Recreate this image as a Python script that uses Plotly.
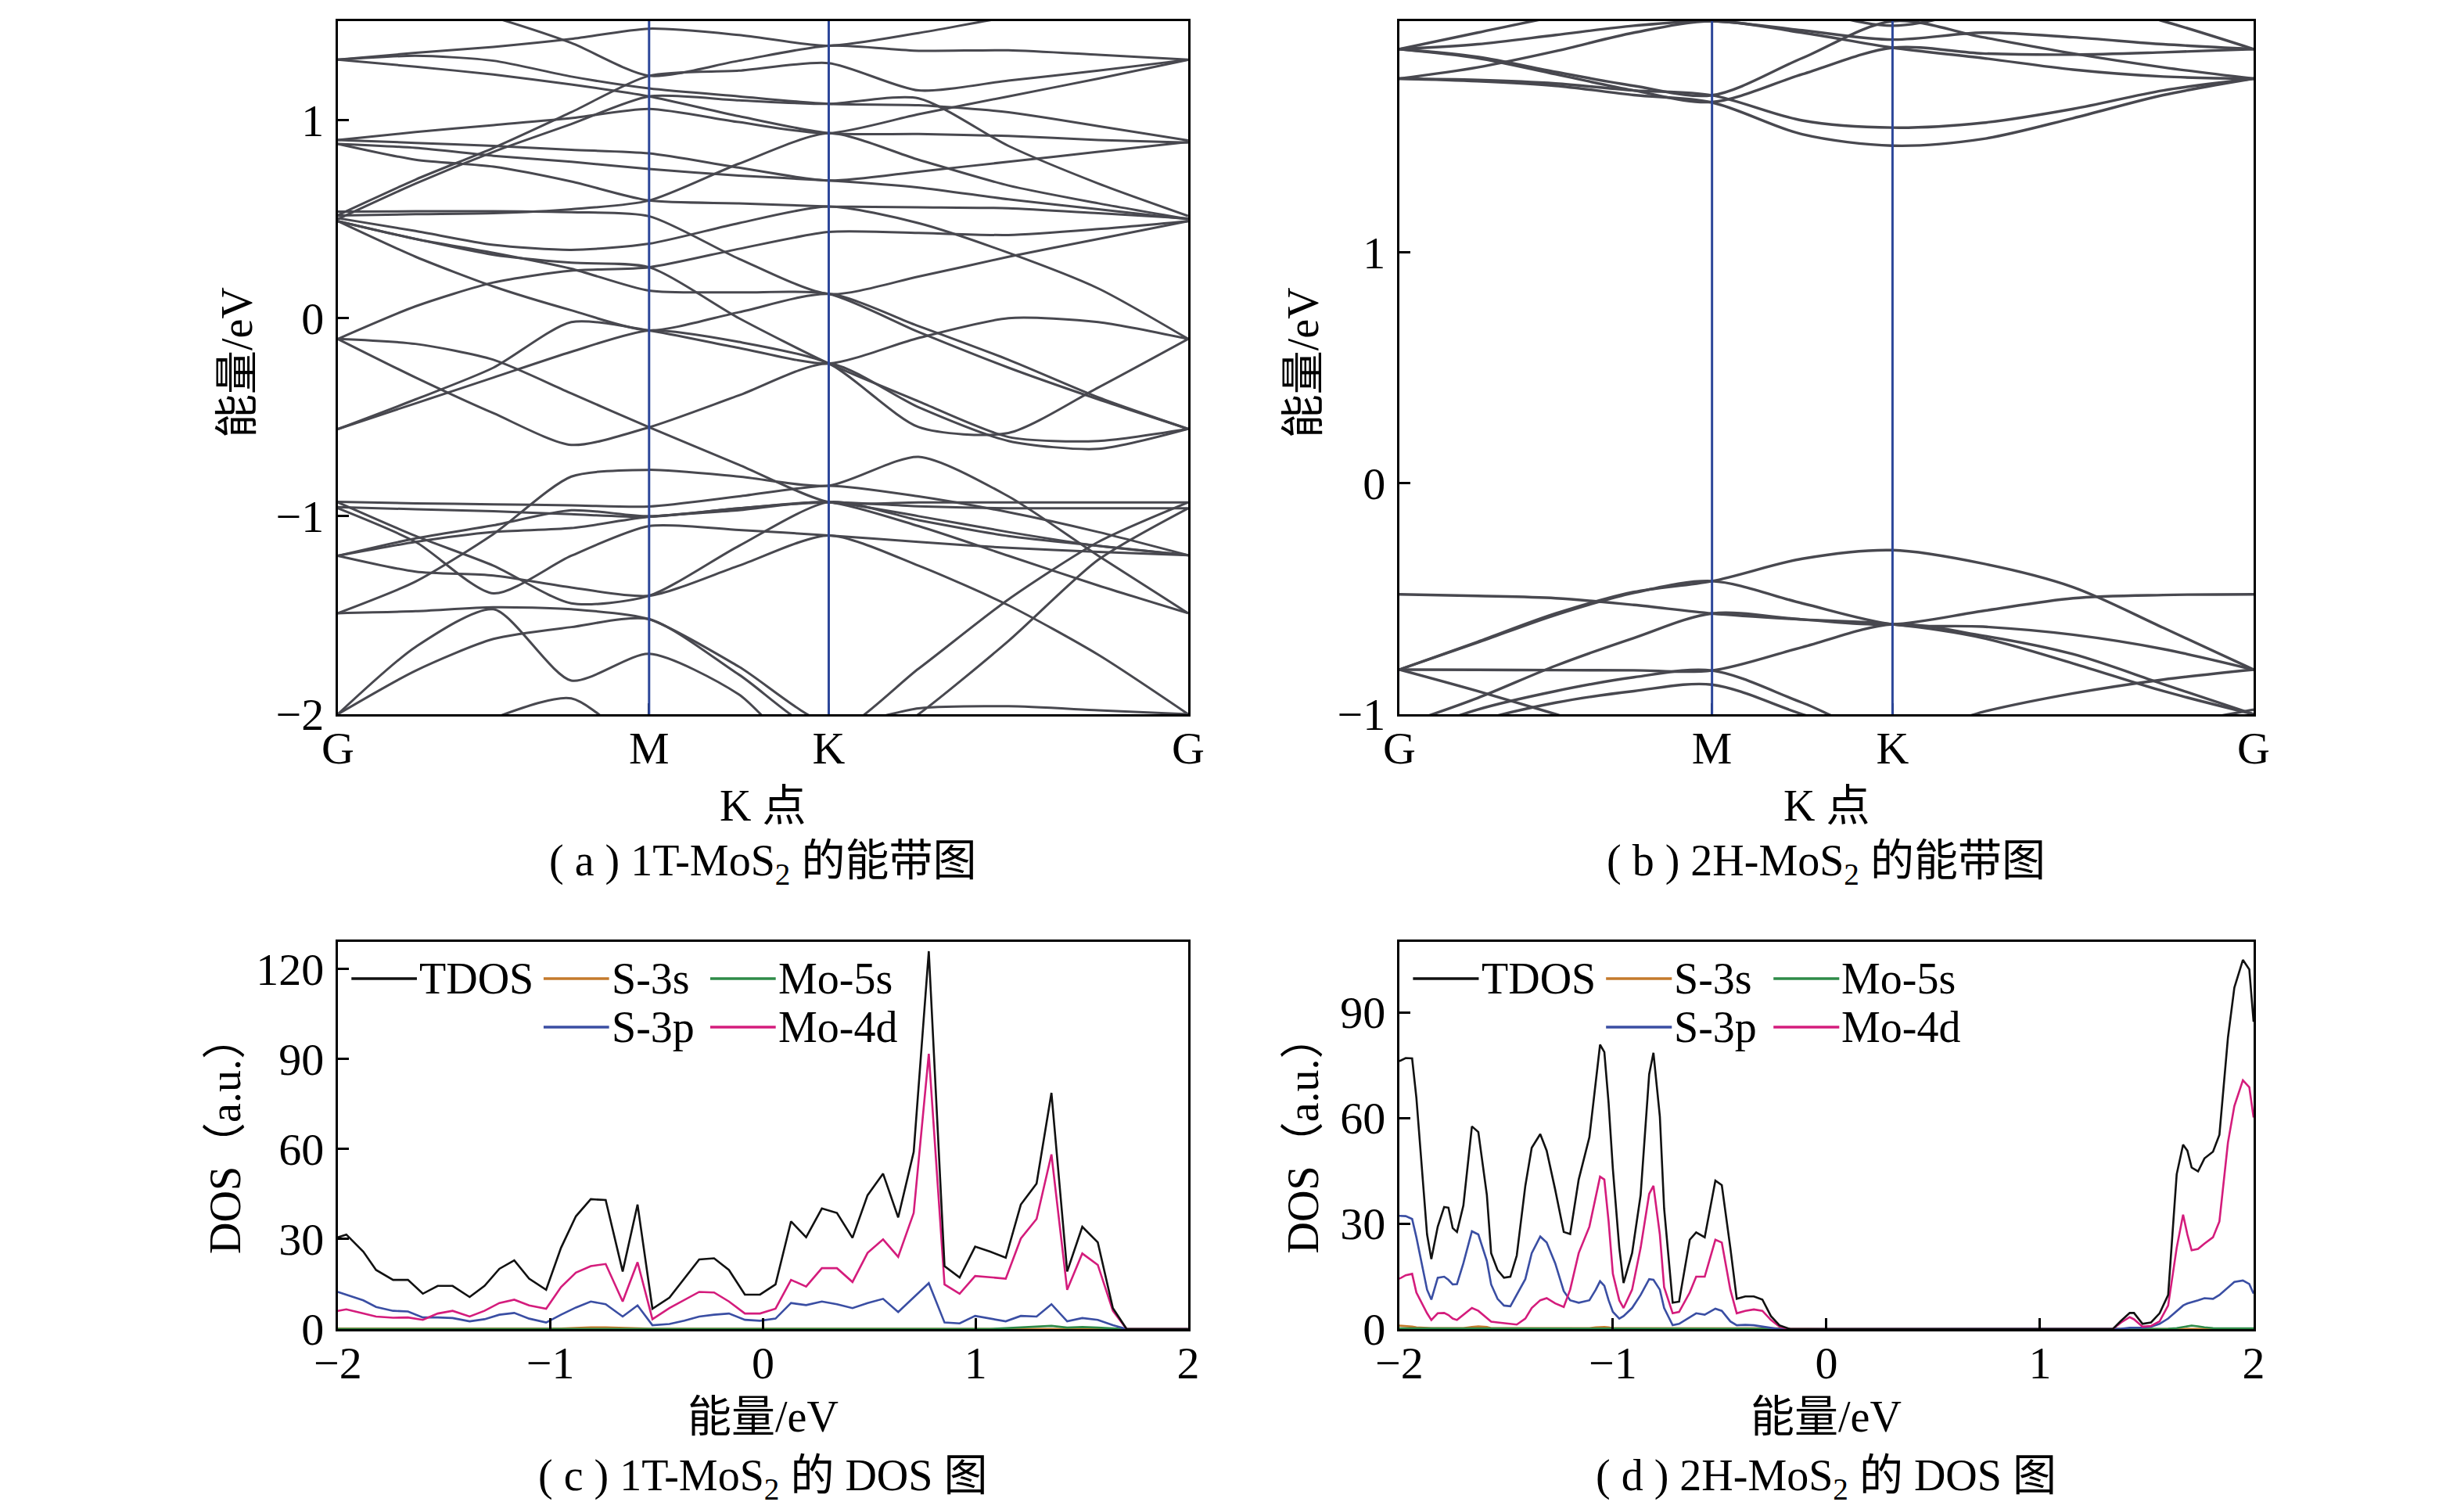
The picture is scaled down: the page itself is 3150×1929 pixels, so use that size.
import plotly.graph_objects as go

# ---------------- k-path (G-M-K-G) ----------------
k_labels = ["G", "M", "K", "G"]
k_nodes = [0.0, 0.5774, 0.9107, 1.5774]
seg_fracs = [[0, 0.25, 0.5, 0.75, 1.0], [0.5, 1.0], [0.25, 0.5, 0.75, 1.0]]

# ---------------- 1T-MoS2 bands (eV) at the 11 k samples ----------------
bands_1T = [
    [1.305, 1.34, 1.37, 1.41, 1.462, 1.43, 1.376, 1.44, 1.52, 1.57, 1.60],
    [1.75, 1.63, 1.52, 1.39, 1.224, 1.30, 1.376, 1.35, 1.353, 1.33, 1.305],
    [0.52, 0.70, 0.86, 1.04, 1.224, 1.25, 1.288, 1.15, 1.20, 1.25, 1.305],
    [1.305, 1.325, 1.30, 1.22, 1.16, 1.12, 1.082, 1.075, 1.04, 0.97, 0.898],
    [1.305, 1.27, 1.23, 1.18, 1.12, 1.02, 0.934, 0.93, 0.92, 0.90, 0.887],
    [0.50, 0.68, 0.84, 0.98, 1.12, 1.10, 1.082, 1.11, 0.87, 0.68, 0.516],
    [0.90, 0.94, 0.975, 1.01, 1.057, 0.99, 0.934, 1.03, 1.12, 1.21, 1.305],
    [0.90, 0.885, 0.87, 0.85, 0.832, 0.76, 0.695, 0.74, 0.79, 0.84, 0.89],
    [0.88, 0.86, 0.82, 0.79, 0.753, 0.72, 0.695, 0.66, 0.60, 0.55, 0.50],
    [0.88, 0.80, 0.765, 0.69, 0.594, 0.58, 0.564, 0.56, 0.555, 0.53, 0.504],
    [0.518, 0.525, 0.53, 0.55, 0.594, 0.78, 0.934, 0.80, 0.67, 0.58, 0.50],
    [0.538, 0.54, 0.54, 0.535, 0.515, 0.30, 0.122, 0.21, 0.31, 0.40, 0.49],
    [0.505, 0.44, 0.37, 0.345, 0.376, 0.48, 0.564, 0.48, 0.33, 0.15, -0.105],
    [0.49, 0.40, 0.33, 0.25, 0.139, 0.13, 0.122, -0.07, -0.25, -0.41, -0.559],
    [0.49, 0.31, 0.16, 0.04, -0.062, 0.03, 0.122, -0.04, -0.21, -0.40, -0.559],
    [0.49, 0.40, 0.32, 0.28, 0.257, 0.0, -0.229, -0.42, -0.60, -0.62, -0.559],
    [-0.105, 0.06, 0.18, 0.24, 0.257, 0.35, 0.435, 0.43, 0.42, 0.45, 0.49],
    [-0.56, -0.41, -0.25, -0.02, -0.062, -0.15, -0.229, -0.10, 0.0, -0.02, -0.105],
    [-0.56, -0.43, -0.30, -0.17, -0.062, -0.12, -0.229, -0.55, -0.58, -0.35, -0.105],
    [-0.105, -0.30, -0.48, -0.64, -0.551, -0.39, -0.229, -0.45, -0.62, -0.66, -0.559],
    [-0.105, -0.13, -0.21, -0.38, -0.551, -0.74, -0.929, -0.93, -0.93, -0.93, -0.93],
    [-1.49, -1.33, -1.09, -0.80, -0.766, -0.80, -0.846, -0.70, -0.90, -1.20, -1.49],
    [-1.20, -1.112, -1.046, -0.97, -1.0, -0.96, -0.929, -0.95, -0.96, -0.96, -0.96],
    [-0.927, -0.935, -0.94, -0.945, -0.951, -0.90, -0.846, -0.90, -0.98, -1.08, -1.197],
    [-0.954, -0.965, -0.975, -0.99, -1.003, -0.96, -0.929, -1.0, -1.08, -1.15, -1.197],
    [-0.96, -1.13, -1.39, -1.20, -1.05, -1.07, -1.097, -1.13, -1.16, -1.18, -1.197],
    [-1.20, -1.13, -1.08, -1.06, -1.003, -0.97, -0.929, -1.05, -1.20, -1.35, -1.49],
    [-0.93, -1.10, -1.25, -1.44, -1.402, -1.15, -0.929, -1.02, -1.10, -1.15, -1.197],
    [-1.20, -1.28, -1.30, -1.36, -1.402, -1.25, -1.097, -1.25, -1.45, -1.70, -2.0],
    [-1.49, -1.48, -1.46, -1.47, -1.52, -1.76, -2.05, -1.97, -1.96, -1.98, -2.0],
    [-2.0, -1.78, -1.62, -1.56, -1.52, -1.80, -2.1, -1.77, -1.42, -1.13, -0.93],
    [-2.0, -1.66, -1.47, -1.83, -1.695, -1.90, -2.3, -2.0, -1.63, -1.22, -0.96],
    [-2.4, -2.2, -2.02, -1.92, -2.2, -2.4, -2.5, -2.5, -2.5, -2.5, -2.5],
]

# ---------------- 2H-MoS2 bands (eV) ----------------
bands_2H = [
    [-0.481, -0.488, -0.498, -0.527, -0.564, -0.59, -0.611, -0.553, -0.498, -0.484, -0.481],
    [-0.807, -0.687, -0.564, -0.471, -0.424, -0.327, -0.29, -0.348, -0.45, -0.626, -0.807],
    [-0.807, -0.69, -0.57, -0.475, -0.424, -0.52, -0.611, -0.621, -0.656, -0.718, -0.807],
    [-0.807, -0.808, -0.809, -0.81, -0.811, -0.71, -0.611, -0.66, -0.74, -0.87, -1.0],
    [-1.05, -0.93, -0.79, -0.67, -0.564, -0.59, -0.611, -0.67, -0.78, -0.90, -1.0],
    [-1.1, -0.98, -0.90, -0.84, -0.811, -0.95, -1.1, -0.99, -0.91, -0.85, -0.807],
    [-1.15, -1.03, -0.95, -0.90, -0.872, -1.0, -1.12, -1.15, -1.1, -1.05, -0.98],
    [-0.807, -0.90, -1.0, -1.1, -1.2, -1.3, -1.35, -1.3, -1.2, -1.1, -1.05],
    [1.751, 1.74, 1.72, 1.68, 1.648, 1.51, 1.461, 1.49, 1.58, 1.68, 1.751],
    [1.751, 1.745, 1.73, 1.70, 1.679, 1.57, 1.539, 1.56, 1.62, 1.70, 1.751],
    [1.879, 1.84, 1.77, 1.70, 1.65, 1.77, 1.885, 1.86, 1.855, 1.865, 1.879],
    [1.879, 1.845, 1.78, 1.72, 1.679, 1.84, 2.0, 1.93, 1.86, 1.80, 1.751],
    [1.751, 1.80, 1.87, 1.95, 2.0, 1.95, 1.885, 1.84, 1.79, 1.76, 1.751],
    [1.879, 1.90, 1.94, 1.98, 2.0, 1.96, 1.92, 1.95, 1.93, 1.90, 1.879],
    [1.879, 1.95, 2.02, 2.08, 2.1, 2.05, 1.98, 2.05, 2.1, 2.0, 1.879],
]

# ---------------- 1T-MoS2 DOS ----------------
e_c = [-2.00, -1.96, -1.88, -1.82, -1.74, -1.67, -1.60, -1.53, -1.46, -1.38,
       -1.31, -1.24, -1.17, -1.10, -1.02, -0.95, -0.88, -0.81, -0.74, -0.66,
       -0.59, -0.52, -0.44, -0.37, -0.30, -0.23, -0.16, -0.085, -0.014, 0.059,
       0.132, 0.203, 0.277, 0.348, 0.421, 0.492, 0.565, 0.636, 0.709, 0.780,
       0.854, 0.925, 0.998, 1.069, 1.142, 1.213, 1.287, 1.357, 1.431, 1.502,
       1.575, 1.646, 1.711, 1.85, 2.0]
tdos_c = [30.6, 31.5, 25.8, 19.7, 16.4, 16.4, 11.8, 14.4, 14.4, 10.7,
          14.4, 20.1, 22.9, 16.8, 13.1, 27.1, 37.6, 43.3, 43.0, 19.2,
          41.5, 6.8, 10.5, 16.8, 23.2, 23.6, 19.7, 11.5, 11.5, 14.9,
          35.9, 30.6, 40.2, 38.7, 30.4, 44.6, 51.8, 37.2, 59.0, 125.9,
          21.0, 17.2, 27.5, 25.8, 23.8, 41.5, 48.5, 78.7, 19.2, 34.1,
          28.9, 7.0, 0, 0, 0]
s3s_c = [0.2] * 16 + [0.4, 0.6, 0.6, 0.4, 0.3] + [0.15] * 31 + [0, 0, 0]
mo5s_c = [0.1] * 44 + [0.3, 0.6, 0.9, 1.1, 0.5, 0.7, 0.5, 0.2, 0, 0, 0]
s3p_c = [12.4, 11.4, 9.6, 7.4, 6.1, 5.9, 3.9, 3.9, 3.7, 2.6,
         3.3, 4.8, 5.4, 3.5, 2.2, 4.8, 7.2, 9.2, 8.3, 4.2,
         7.9, 1.3, 1.7, 2.8, 4.2, 4.8, 5.2, 3.1, 2.8, 3.5,
         8.7, 8.0, 9.2, 8.3, 7.0, 8.7, 10.1, 5.7, 10.5, 15.3,
         2.2, 1.9, 4.4, 3.5, 2.6, 4.4, 4.2, 8.3, 2.6, 3.7,
         3.1, 1.3, 0, 0, 0]
mo4d_c = [6.1, 6.6, 5.2, 4.2, 3.8, 3.9, 3.1, 5.2, 6.1, 4.2,
          6.1, 8.7, 9.8, 7.9, 6.8, 14.0, 18.8, 21.0, 21.7, 9.2,
          22.3, 3.3, 7.0, 9.6, 12.4, 12.2, 9.2, 5.2, 5.2, 6.8,
          16.4, 14.2, 20.3, 20.3, 15.7, 25.4, 29.9, 24.1, 38.7, 91.7,
          14.9, 11.8, 17.7, 17.3, 16.8, 30.2, 36.7, 58.2, 13.1, 25.2,
          21.4, 6.1, 0, 0, 0]

# ---------------- 2H-MoS2 DOS ----------------
e_d = [-2.00, -1.97, -1.94, -1.92, -1.87, -1.85, -1.82, -1.79, -1.77, -1.75,
       -1.73, -1.70, -1.66, -1.63, -1.59, -1.57, -1.54, -1.51, -1.48, -1.45,
       -1.41, -1.38, -1.34, -1.31, -1.27, -1.23, -1.20, -1.16, -1.11, -1.08,
       -1.06, -1.04, -1.02, -1.00, -0.97, -0.95, -0.91, -0.87, -0.83, -0.81,
       -0.78, -0.76, -0.72, -0.69, -0.64, -0.61, -0.57, -0.52, -0.49, -0.45,
       -0.42, -0.38, -0.34, -0.30, -0.26, -0.22, -0.17, 0.0, 0.5, 1.0,
       1.34, 1.38, 1.42, 1.44, 1.48, 1.52, 1.56, 1.60, 1.64, 1.67,
       1.69, 1.71, 1.74, 1.77, 1.81, 1.84, 1.88, 1.91, 1.95, 1.98, 2.0]
tdos_d = [76.1, 77.0, 76.9, 65.7, 26.9, 19.9, 29.1, 34.7, 34.5, 28.7,
          27.6, 35.1, 57.6, 56.0, 38.1, 21.6, 16.8, 14.6, 14.9, 20.9,
          40.7, 51.5, 55.4, 50.7, 39.6, 27.6, 27.0, 42.5, 54.5, 70.2,
          80.8, 78.7, 64.2, 45.5, 23.1, 13.1, 21.6, 38.1, 72.4, 78.5,
          60.4, 34.3, 7.5, 7.8, 25.4, 27.5, 26.1, 42.2, 40.9, 23.1,
          8.6, 9.3, 9.3, 8.4, 3.7, 1.1, 0, 0, 0, 0,
          0, 2.4, 4.6, 4.6, 1.5, 1.9, 4.5, 9.7, 44.0, 52.4,
          50.7, 45.9, 44.8, 48.5, 50.4, 55.2, 82.8, 97.0, 104.9, 102.2, 87.3]
mo4d_d = [14.3, 15.3, 15.7, 10.4, 4.5, 2.6, 4.5, 4.6, 4.0, 3.0,
          2.6, 4.1, 6.0, 5.2, 3.0, 2.1, 1.9, 1.7, 1.6, 1.3,
          3.0, 6.0, 8.2, 8.8, 7.3, 6.3, 11.2, 21.6, 29.1, 38.1,
          43.3, 42.5, 30.6, 15.7, 8.2, 6.0, 11.2, 23.1, 38.4, 40.7,
          26.9, 11.9, 4.5, 4.9, 10.4, 14.9, 14.9, 25.4, 24.6, 11.2,
          4.5, 5.2, 5.6, 5.2, 2.6, 0.7, 0, 0, 0, 0,
          0, 1.9, 3.4, 2.8, 0.7, 0.9, 2.2, 6.7, 23.1, 32.5,
          26.9, 22.4, 22.8, 24.3, 26.1, 30.6, 53.0, 63.4, 70.7, 68.7, 60.1]
s3p_d = [32.2, 32.1, 31.3, 26.1, 11.2, 8.4, 14.6, 14.9, 14.0, 12.7,
         12.8, 18.7, 27.8, 26.9, 19.4, 12.7, 8.6, 6.7, 6.5, 9.7,
         14.2, 21.6, 26.3, 24.6, 18.7, 10.8, 8.2, 7.5, 8.2, 11.2,
         13.6, 12.3, 8.2, 4.9, 3.0, 3.7, 6.0, 9.7, 14.2, 14.0,
         11.2, 6.0, 1.1, 1.5, 3.4, 4.5, 4.1, 5.8, 5.2, 2.2,
         1.1, 1.2, 1.1, 0.7, 0.4, 0, 0, 0, 0, 0,
         0, 0.1, 0.4, 0.4, 0.4, 0.7, 1.5, 3.0, 5.2, 6.7,
         7.3, 7.6, 8.2, 8.8, 8.6, 9.7, 11.9, 13.4, 13.8, 12.8, 10.1]
s3s_d = [1.0, 0.9, 0.7, 0.5] + [0.3] * 8 + [0.6, 0.8, 0.6] + [0.3] * 14 + [0.5, 0.6, 0.6, 0.5] \
        + [0.3] * 12 + [0.2] * 11 + [0.1, 0.0, 0, 0, 0, 0] + [0.0] * 8 + [0.1] * 13
mo5s_d = [0.2] * 55 + [0.1, 0, 0, 0, 0, 0, 0, 0, 0, 0, 0, 0, 0.1, 0.3, 0.6, 0.9, 1.0, 0.8, 0.5,
                        0.3, 0.2, 0.2, 0.2, 0.2, 0.2, 0.2]

# ---------------- styling ----------------
FONT = "Liberation Serif, 'Times New Roman', 'Noto Sans CJK SC', serif"
FS = 56
FS_TICK = 58
BAND_COLOR = "#48484f"
SYM_COLOR = "#2d479a"
C_TDOS, C_S3S, C_MO5S, C_S3P, C_MO4D = "#111111", "#c47a2c", "#2e8b48", "#3a4ea3", "#d41c7c"

X_LEFT = [0.1371, 0.4822]
X_RIGHT = [0.5679, 0.9146]
Y_TOP = [0.5267, 0.9860]
Y_BOT = [0.1192, 0.3758]


def k_samples():
    ks = []
    for i, fr in enumerate(seg_fracs):
        a, b = k_nodes[i], k_nodes[i + 1]
        ks += [a + f * (b - a) for f in fr]
    return ks


ks = k_samples()
fig = go.Figure()

for band in bands_1T:
    fig.add_trace(go.Scatter(x=ks, y=band, mode="lines", xaxis="x", yaxis="y",
                             line=dict(color=BAND_COLOR, width=3, shape="spline", smoothing=0.7),
                             hoverinfo="skip", showlegend=False))
for band in bands_2H:
    fig.add_trace(go.Scatter(x=ks, y=band, mode="lines", xaxis="x2", yaxis="y2",
                             line=dict(color=BAND_COLOR, width=3.4, shape="spline", smoothing=0.9),
                             hoverinfo="skip", showlegend=False))

for (e, comps, xa, ya) in [
    (e_c, [(s3s_c, C_S3S), (mo5s_c, C_MO5S), (s3p_c, C_S3P), (mo4d_c, C_MO4D), (tdos_c, C_TDOS)], "x3", "y3"),
    (e_d, [(s3s_d, C_S3S), (mo5s_d, C_MO5S), (s3p_d, C_S3P), (mo4d_d, C_MO4D), (tdos_d, C_TDOS)], "x4", "y4"),
]:
    for vals, col in comps:
        fig.add_trace(go.Scatter(x=e, y=vals, mode="lines", xaxis=xa, yaxis=ya,
                                 line=dict(color=col, width=2.6), hoverinfo="skip", showlegend=False))

axis_common = dict(showline=True, linecolor="black", linewidth=3, mirror=True,
                   ticks="inside", ticklen=14, tickwidth=3, tickcolor="black",
                   showgrid=False, zeroline=False, automargin=False,
                   tickfont=dict(family=FONT, size=FS_TICK, color="black"))
x_extra = dict(ticklabelstandoff=-10)
y_extra = dict(ticklabelstandoff=3)

layout = dict(
    width=3150, height=1929, margin=dict(l=0, r=0, t=0, b=0, pad=0, autoexpand=False),
    paper_bgcolor="white", plot_bgcolor="white", showlegend=False,
    xaxis=dict(domain=X_LEFT, anchor="y", range=[k_nodes[0], k_nodes[-1]],
               tickvals=k_nodes, ticktext=k_labels, **axis_common, **x_extra),
    yaxis=dict(domain=Y_TOP, anchor="x", range=[-2, 1.5], tickvals=[-2, -1, 0, 1], **axis_common, **y_extra),
    xaxis2=dict(domain=X_RIGHT, anchor="y2", range=[k_nodes[0], k_nodes[-1]],
                tickvals=k_nodes, ticktext=k_labels, **axis_common, **x_extra),
    yaxis2=dict(domain=Y_TOP, anchor="x2", range=[-1, 2], tickvals=[-1, 0, 1, 2], **axis_common, **y_extra),
    xaxis3=dict(domain=X_LEFT, anchor="y3", range=[-2, 2], tickvals=[-2, -1, 0, 1, 2],
                **axis_common, **x_extra),
    yaxis3=dict(domain=Y_BOT, anchor="x3", range=[0, 129], tickvals=[0, 30, 60, 90, 120],
                **axis_common, **y_extra),
    xaxis4=dict(domain=X_RIGHT, anchor="y4", range=[-2, 2], tickvals=[-2, -1, 0, 1, 2],
                **axis_common, **x_extra),
    yaxis4=dict(domain=Y_BOT, anchor="x4", range=[0, 110], tickvals=[0, 30, 60, 90],
                **axis_common, **y_extra),
)
fig.update_layout(**layout)

# vertical lines at M and K
shapes = []
for xr, yr in [("x", "y domain"), ("x2", "y2 domain")]:
    for kx in k_nodes[1:3]:
        shapes.append(dict(type="line", xref=xr, yref=yr, x0=kx, x1=kx, y0=0, y1=1,
                           line=dict(color=SYM_COLOR, width=3), layer="above"))

annotations = []


def txt(x, y, text, xref="paper", yref="paper", angle=0, xanchor="center", size=FS):
    annotations.append(dict(x=x, y=y, xref=xref, yref=yref, text=text, showarrow=False,
                            textangle=angle, xanchor=xanchor, yanchor="middle",
                            font=dict(family=FONT, size=size, color="black")))


# legends drawn inside DOS panels
legend_items = [("TDOS", C_TDOS, 0.016, 0.905), ("S-3s", C_S3S, 0.242, 0.905), ("Mo-5s", C_MO5S, 0.438, 0.905),
                ("S-3p", C_S3P, 0.242, 0.780), ("Mo-4d", C_MO4D, 0.438, 0.780)]
for xa, ya in [("x3", "y3"), ("x4", "y4")]:
    for name, col, lx, ly in legend_items:
        shapes.append(dict(type="line", xref=f"{xa} domain", yref=f"{ya} domain",
                           x0=lx, x1=lx + 0.077, y0=ly, y1=ly, line=dict(color=col, width=3.5)))
        txt(lx + 0.078, ly, name, xref=f"{xa} domain", yref=f"{ya} domain", xanchor="left", size=FS)

# axis titles and captions
txt(0.0962, 0.7595, "能量/eV", angle=-90)
txt(0.5290, 0.7595, "能量/eV", angle=-90)
txt(0.0914, 0.2483, "DOS（a.u.）", angle=-90)
txt(0.5290, 0.2483, "DOS（a.u.）", angle=-90)
txt(0.3096, 0.4660, "K 点")
txt(0.7412, 0.4660, "K 点")
txt(0.3096, 0.4277, "( a ) 1T-MoS<sub>2</sub> 的能带图")
txt(0.7412, 0.4277, "( b ) 2H-MoS<sub>2</sub> 的能带图")
txt(0.3096, 0.0612, "能量/eV")
txt(0.7412, 0.0612, "能量/eV")
txt(0.3096, 0.0200, "( c ) 1T-MoS<sub>2</sub> 的 DOS 图")
txt(0.7412, 0.0200, "( d ) 2H-MoS<sub>2</sub> 的 DOS 图")

fig.update_layout(shapes=shapes, annotations=annotations)
fig.write_html("out.html", config={"displayModeBar": False},
               post_script="document.body.style.margin='0px';")
